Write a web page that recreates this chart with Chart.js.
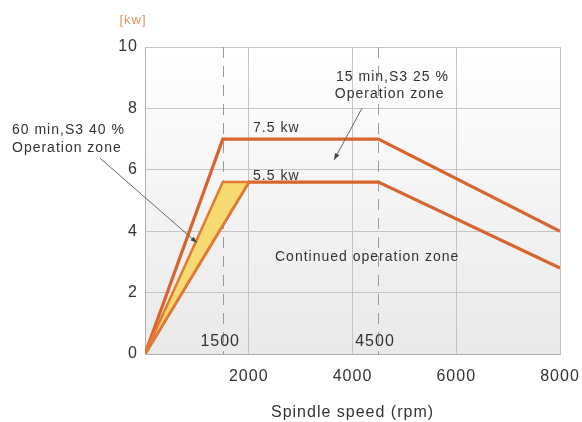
<!DOCTYPE html>
<html>
<head>
<meta charset="utf-8">
<script src="https://cdn.jsdelivr.net/npm/chart.js@4/dist/chart.umd.min.js"></script>
<style>
  html, body { margin: 0; padding: 0; background: #fff; }
  #wrap { width: 582px; height: 422px; }
</style>
</head>
<body>
<div id="wrap"><canvas id="myChart" width="582" height="422"></canvas></div>
<script>
// spindle power curves
var speedS3_25 = [0, 1500, 4500, 8000];
var powerS3_25 = [0, 7.0, 7.0, 4.0];
var speedCont = [0, 2000, 4500, 8000];
var powerCont = [0, 5.6, 5.6, 2.8];
var speedS3_40 = [0, 1500, 2000, 0];
var powerS3_40 = [0, 5.6, 5.6, 0];
var xTicks = [2000, 4000, 6000, 8000];
var yTicks = [0, 2, 4, 6, 8, 10];
var markSpeeds = [1500, 4500];

function pts(xs, ys) {
    var out = [];
    for (var i = 0; i < xs.length; i++) out.push({x: xs[i], y: ys[i]});
    return out;
}

var FONT = '"Liberation Sans", Arial, sans-serif';
var ORANGE = '#d8652d';

// texts and leaders, placed in data units
var notes = [
    {t: '60 min,S3 40 %', x: -2564, y: 7.30},
    {t: 'Operation zone', x: -2564, y: 6.71},
    {t: '7.5 kw', x: 2083, y: 7.36},
    {t: '5.5 kw', x: 2083, y: 5.80},
    {t: '15 min,S3 25 %', x: 3683, y: 9.02},
    {t: 'Operation zone', x: 3660, y: 8.47},
    {t: 'Continued operation zone', x: 2506, y: 3.16}
];
var leaders = [
    [-868, 6.38, 1003, 3.62],
    [4184, 8.01, 3644, 6.32]
];

var decor = {
    id: 'decor',
    beforeLayout: function(chart) { chart.ctx.letterSpacing = '1px'; },
    beforeDraw: function(chart) {
        var c = chart.ctx, a = chart.chartArea;
        c.letterSpacing = '1px';
        var g = c.createLinearGradient(0, a.top, 0, a.bottom);
        g.addColorStop(0, '#ffffff');
        g.addColorStop(1, '#e9e9e9');
        c.save();
        c.fillStyle = g;
        c.fillRect(a.left, a.top, a.right - a.left, a.bottom - a.top);
        c.restore();
    },
    beforeDatasetsDraw: function(chart) {
        var c = chart.ctx, a = chart.chartArea, xs = chart.scales.x;
        c.save();
        c.strokeStyle = '#9a9a9a';
        c.lineWidth = 1;
        c.setLineDash([11, 8]);
        markSpeeds.forEach(function(v) {
            var px = Math.round(xs.getPixelForValue(v)) + 0.5;
            c.beginPath();
            c.moveTo(px, a.top);
            c.lineTo(px, a.bottom);
            c.stroke();
        });
        c.restore();
    },
    afterDraw: function(chart) {
        var c = chart.ctx, a = chart.chartArea;
        var xs = chart.scales.x, ys = chart.scales.y;
        c.save();
        c.letterSpacing = '1px';
        c.fillStyle = '#333';
        c.font = '14px ' + FONT;
        c.textBaseline = 'middle';
        c.textAlign = 'left';
        notes.forEach(function(n) {
            c.fillText(n.t, xs.getPixelForValue(n.x), ys.getPixelForValue(n.y));
        });
        c.strokeStyle = '#666';
        c.fillStyle = '#444';
        c.lineWidth = 1;
        leaders.forEach(function(l) {
            var x1 = xs.getPixelForValue(l[0]), y1 = ys.getPixelForValue(l[1]);
            var x2 = xs.getPixelForValue(l[2]), y2 = ys.getPixelForValue(l[3]);
            c.beginPath();
            c.moveTo(x1, y1);
            c.lineTo(x2, y2);
            c.stroke();
            var ang = Math.atan2(y2 - y1, x2 - x1);
            c.beginPath();
            c.moveTo(x2, y2);
            c.lineTo(x2 - 7 * Math.cos(ang - 0.35), y2 - 7 * Math.sin(ang - 0.35));
            c.lineTo(x2 - 7 * Math.cos(ang + 0.35), y2 - 7 * Math.sin(ang + 0.35));
            c.closePath();
            c.fill();
        });
        // speed marks inside the plot
        c.fillStyle = '#333';
        c.font = '16px ' + FONT;
        c.textAlign = 'center';
        c.fillText('1500', xs.getPixelForValue(1450), a.bottom - 12);
        c.fillText('4500', xs.getPixelForValue(4434), a.bottom - 12);
        // unit
        c.fillStyle = '#e8935a';
        c.font = '13px ' + FONT;
        c.fillText('[kw]', a.left - 12, 20);
        c.restore();
    }
};

var ctx = document.getElementById('myChart').getContext('2d');
var myChart = new Chart(ctx, {
    type: 'scatter',
    data: {
        datasets: [{
            data: pts(speedS3_40, powerS3_40),
            showLine: true,
            fill: 'shape',
            backgroundColor: '#f8da72',
            borderColor: '#e27a34',
            borderWidth: 2.5,
            pointRadius: 0,
            tension: 0
        }, {
            data: pts(speedCont, powerCont),
            showLine: true,
            fill: false,
            borderColor: ORANGE,
            borderWidth: 3.2,
            pointRadius: 0,
            tension: 0
        }, {
            data: pts(speedS3_25, powerS3_25),
            showLine: true,
            fill: false,
            borderColor: ORANGE,
            borderWidth: 3.2,
            pointRadius: 0,
            tension: 0
        }]
    },
    options: {
        responsive: false,
        animation: false,
        devicePixelRatio: 1,
        layout: { padding: { left: 0, right: 22, top: 47, bottom: 0 } },
        plugins: {
            legend: { display: false },
            tooltip: { enabled: false }
        },
        scales: {
            x: {
                type: 'linear',
                min: 0,
                max: 8000,
                afterBuildTicks: function(s) {
                    s.ticks = [0].concat(xTicks).map(function(v) { return {value: v}; });
                },
                afterFit: function(s) {
                    s.height = 68;
                    s.paddingLeft = 0;
                    s.paddingRight = 0;
                },
                grid: { color: '#c4c4c4', drawTicks: false },
                border: { color: '#b0b0b0' },
                ticks: {
                    padding: 13,
                    color: '#333',
                    font: { family: FONT, size: 16 },
                    callback: function(v) { return v === 0 ? '' : v; }
                },
                title: {
                    display: true,
                    text: 'Spindle speed (rpm)',
                    color: '#333',
                    font: { family: FONT, size: 16 },
                    padding: { top: 12, bottom: 0 }
                }
            },
            y: {
                min: 0,
                max: 10,
                afterBuildTicks: function(s) {
                    s.ticks = yTicks.map(function(v) { return {value: v}; });
                },
                afterFit: function(s) {
                    s.width = 145;
                    s.paddingTop = 0;
                    s.paddingBottom = 0;
                },
                grid: { color: '#c4c4c4', drawTicks: false },
                border: { color: '#b0b0b0' },
                ticks: {
                    padding: 7,
                    color: '#333',
                    font: { family: FONT, size: 16 }
                }
            }
        }
    },
    plugins: [decor]
});
</script>
</body>
</html>
